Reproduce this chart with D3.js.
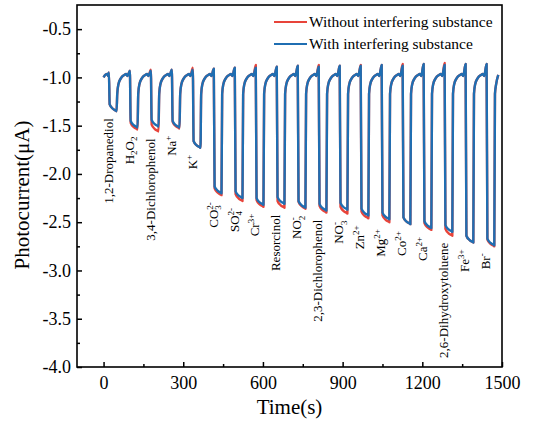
<!DOCTYPE html>
<html>
<head>
<meta charset="utf-8">
<script src="https://cdn.jsdelivr.net/npm/d3@7"></script>
<style>
  body { margin: 0; background: #fff; }
  text { font-family: "Liberation Serif", "Times New Roman", serif; fill: #000; }
</style>
</head>
<body>
<div id="graph"></div>
<script>
// time (s) at which each light-on step starts
const onTimes = [20, 99, 178, 257, 336, 415, 494, 573, 652, 731, 810, 889, 968, 1047, 1126, 1205, 1284, 1363, 1442];

// interfering species, _{} = subscript, ^{} = superscript
const species = ["1,2-Dropanediol", "H_{2}O_{2}", "3,4-Dichlorophenol", "Na^{+}", "K^{+}",
    "CO_{3}^{2-}", "SO_{4}^{2-}", "Cr^{3+}", "Resorcinol", "NO_{2}^{-}", "2,3-Dichlorophenol",
    "NO_{3}^{-}", "Zn^{2+}", "Mg^{2+}", "Co^{2+}", "Ca^{2+}", "2,6-Dihydroxytoluene",
    "Fe^{3+}", "Br^{-}"];

// lowest photocurrent of each pulse (uA)
const minWith = [-1.35, -1.52, -1.51, -1.52, -1.73, -2.20, -2.25, -2.32, -2.31, -2.35, -2.38,
    -2.37, -2.43, -2.47, -2.52, -2.56, -2.60, -2.71, -2.74];
const minWithout = [-1.35, -1.54, -1.56, -1.53, -1.73, -2.22, -2.28, -2.34, -2.35, -2.36, -2.40,
    -2.41, -2.46, -2.50, -2.52, -2.58, -2.64, -2.71, -2.75];

// dark level just before each pulse (uA)
const peakWith = [-0.95, -0.93, -0.93, -0.92, -0.92, -0.91, -0.90, -0.90, -0.89, -0.88, -0.89,
    -0.88, -0.88, -0.87, -0.88, -0.86, -0.87, -0.86, -0.86];
const peakWithout = [-0.95, -0.93, -0.92, -0.92, -0.90, -0.91, -0.90, -0.87, -0.89, -0.88, -0.87,
    -0.88, -0.87, -0.87, -0.86, -0.86, -0.85, -0.86, -0.86];

const xTicks = [0, 300, 600, 900, 1200, 1500];
const yTicks = [-4.0, -3.5, -3.0, -2.5, -2.0, -1.5, -1.0, -0.5];

const seriesNames = ["Without interfering substance", "With interfering substance"];

const width = 547;
const height = 425;
const margins = { top: 5, right: 45, bottom: 58, left: 77 };
const endTime = 1486;

const xScale = d3.scaleLinear()
    .domain([-100, 1500])
    .range([margins.left, width - margins.right]);

const yScale = d3.scaleLinear()
    .domain([-4.0, -0.25])
    .range([height - margins.bottom, margins.top]);

const color = d3.scaleOrdinal()
    .domain(seriesNames)
    .range(["#e8443a", "#1f6eb2"]);

// one transient per pulse: sharp drop, slow creep, sharp recovery
function buildSeries(mins, peaks) {
    var pts = [[0, -1.0], [8, -0.97], [14, -0.965], [17, -0.985]];
    onTimes.forEach(function(t0, i) {
        var m = mins[i];
        pts.push([t0, peaks[i]], [t0 + 3, m + 0.07], [t0 + 15, m + 0.025],
            [t0 + 27, m + 0.004], [t0 + 29, m], [t0 + 31.5, -1.17], [t0 + 36, -1.07],
            [t0 + 45, -1.01], [t0 + 58, -0.975], [t0 + 65, -0.965], [t0 + 70, -0.985]);
    });
    pts = pts.filter(function(d) { return d[0] <= endTime - 6; });
    pts.push([endTime, -0.975]);
    return pts;
}

const svg = d3.select("#graph").append("svg")
    .attr("width", width)
    .attr("height", height);

const line = d3.line()
    .x(d => xScale(d[0]))
    .y(d => yScale(d[1]))
    .curve(d3.curveMonotoneX);

svg.append("path")
    .datum(buildSeries(minWithout, peakWithout))
    .attr("d", line)
    .attr("fill", "none")
    .attr("stroke", color(seriesNames[0]))
    .attr("stroke-width", 2.4)
    .attr("stroke-linejoin", "round");

svg.append("path")
    .datum(buildSeries(minWith, peakWith))
    .attr("d", line)
    .attr("fill", "none")
    .attr("stroke", color(seriesNames[1]))
    .attr("stroke-width", 2.4)
    .attr("stroke-linejoin", "round");

// species labels under each pulse, rotated
function addRich(textSel, str) {
    var re = /([_^])\{([^}]*)\}|([^_^]+)/g, m, shift = 0, lastSub = 0;
    while ((m = re.exec(str)) !== null) {
        var ts = textSel.append("tspan");
        if (m[3]) {
            ts.text(m[3]).attr("dy", -shift);
            shift = 0; lastSub = 0;
        } else if (m[1] === "_") {
            ts.text(m[2]).attr("font-size", "9px").attr("dy", 3.5 - shift);
            shift = 3.5; lastSub = m[2].length;
        } else {
            ts.text(m[2]).attr("font-size", "9px").attr("dy", -5 - shift);
            if (lastSub) ts.attr("dx", -4.5 * lastSub);
            shift = -5; lastSub = 0;
        }
    }
}

species.forEach(function(s, i) {
    var x = xScale(onTimes[i] + 14);
    var y = yScale(Math.min(minWith[i], minWithout[i])) + 7;
    var t = svg.append("text")
        .attr("transform", "translate(" + x + "," + y + ") rotate(-90)")
        .attr("dy", "0.35em")
        .style("text-anchor", "end")
        .style("font-size", "13px");
    addRich(t, s);
});

// Y-axis, inward ticks
svg.append("g")
    .attr("transform", "translate(" + margins.left + ",0)")
    .call(d3.axisLeft(yScale).tickValues(yTicks).tickSizeInner(-5).tickSizeOuter(0)
        .tickPadding(6).tickFormat(d => d3.format(".1f")(d).replace("\u2212", "-")))
    .call(g => g.select(".domain").remove())
    .call(g => g.selectAll("line").attr("stroke-width", 1.5))
    .call(g => g.selectAll("text").style("font-size", "18px")
        .style("font-family", "Liberation Serif, serif"));

svg.append("g")
    .attr("transform", "translate(" + margins.left + ",0)")
    .call(d3.axisLeft(yScale).tickValues(d3.range(-3.75, -0.5, 0.5)).tickSizeInner(-3)
        .tickSizeOuter(0).tickFormat(""))
    .call(g => g.select(".domain").remove())
    .call(g => g.selectAll("line").attr("stroke-width", 1.5));

// X-axis, inward ticks
svg.append("g")
    .attr("transform", "translate(0," + (height - margins.bottom) + ")")
    .call(d3.axisBottom(xScale).tickValues(xTicks).tickSizeInner(-5).tickSizeOuter(0)
        .tickPadding(9).tickFormat(d3.format("d")))
    .call(g => g.select(".domain").remove())
    .call(g => g.selectAll("line").attr("stroke-width", 1.5))
    .call(g => g.selectAll("text").style("font-size", "18px")
        .style("font-family", "Liberation Serif, serif"));

svg.append("g")
    .attr("transform", "translate(0," + (height - margins.bottom) + ")")
    .call(d3.axisBottom(xScale).tickValues(d3.range(150, 1500, 300)).tickSizeInner(-3)
        .tickSizeOuter(0).tickFormat(""))
    .call(g => g.select(".domain").remove())
    .call(g => g.selectAll("line").attr("stroke-width", 1.5));

// frame
svg.append("rect")
    .attr("x", margins.left)
    .attr("y", margins.top)
    .attr("width", width - margins.left - margins.right)
    .attr("height", height - margins.top - margins.bottom)
    .attr("fill", "none")
    .attr("stroke", "#000")
    .attr("stroke-width", 1.6);

// legend
var legend = svg.selectAll(".legend")
    .data(seriesNames)
    .enter().append("g")
    .attr("class", "legend")
    .attr("transform", function(d, i) { return "translate(0," + (22 + i * 22) + ")"; });

legend.append("line")
    .attr("x1", 274)
    .attr("x2", 307)
    .attr("y1", 0)
    .attr("y2", 0)
    .style("stroke", color)
    .style("stroke-width", "2px");

legend.append("text")
    .attr("x", 309)
    .attr("y", 0)
    .attr("dy", "0.35em")
    .style("font-size", "15.5px")
    .text(function(d) { return d; });

// axis titles
svg.append("text")
    .attr("x", (margins.left + width - margins.right) / 2)
    .attr("y", 414)
    .style("text-anchor", "middle")
    .style("font-size", "21px")
    .text("Time(s)");

svg.append("text")
    .attr("transform", "translate(29,195) rotate(-90)")
    .style("text-anchor", "middle")
    .style("font-size", "21px")
    .text("Photocurrent(\u03bcA)");
</script>
</body>
</html>
